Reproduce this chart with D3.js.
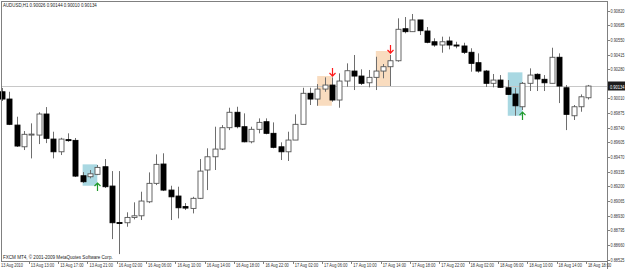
<!DOCTYPE html>
<meta charset="utf-8">
<style>

body {
  margin: 0;
  background: #fff;
}

svg {
  display: block;
  font-family: "Liberation Sans", Arial, sans-serif;
}

.wicks line {
  stroke: #6e6e6e;
  stroke-width: 1px;
}

.frame line {
  stroke: #808080;
  stroke-width: 1px;
  shape-rendering: crispEdges;
}

</style>
<svg id="chart" width="625" height="269"></svg>
<script src="https://cdn.jsdelivr.net/npm/d3@7/dist/d3.min.js"></script>
<script>
// AUDUSD H1, 81 bars
var title = "AUDUSD,H1  0.90026 0.90144 0.90010 0.90134";
var footer = "FXCM MT4, \u00a9 2001-2009 MetaQuotes Software Corp.";

var opens = [0.90081,0.90014,0.89774,0.89574,0.89687,0.89682,0.89876,0.89645,0.89528,0.89640,
  0.89633,0.89307,0.89298,0.89320,0.89390,0.89212,0.88876,0.88874,0.88923,0.88938,
  0.89067,0.89237,0.89415,0.89175,0.89120,0.89023,0.89006,0.89099,0.89360,0.89482,
  0.89553,0.89750,0.89892,0.89759,0.89620,0.89735,0.89805,0.89698,0.89574,0.89528,
  0.89636,0.89781,0.90067,0.90014,0.90106,0.90143,0.90005,0.90180,0.90272,0.90226,
  0.90164,0.90214,0.90272,0.90312,0.90367,0.90662,0.90635,0.90743,0.90641,0.90542,
  0.90512,0.90549,0.90512,0.90503,0.90445,0.90349,0.90272,0.90159,0.90189,0.90118,
  0.90060,0.89943,0.90159,0.90242,0.90196,0.90159,0.90399,0.90118,0.89860,0.89943,
  0.90026];
var highs = [0.90116,0.90081,0.89851,0.89719,0.89790,0.89892,0.89940,0.89713,0.89657,0.89698,
  0.89655,0.89341,0.89360,0.89406,0.89461,0.89350,0.89350,0.88970,0.89062,0.89160,
  0.89338,0.89504,0.89514,0.89215,0.89206,0.89055,0.89113,0.89461,0.89560,0.89759,
  0.89774,0.89934,0.89943,0.89882,0.89759,0.89836,0.89836,0.89799,0.89615,0.89713,
  0.89873,0.90118,0.90118,0.90152,0.90214,0.90214,0.90251,0.90343,0.90420,0.90288,
  0.90282,0.90404,0.90337,0.90420,0.90758,0.90770,0.90798,0.90743,0.90678,0.90574,
  0.90589,0.90589,0.90542,0.90533,0.90482,0.90435,0.90282,0.90245,0.90235,0.90189,
  0.90116,0.90171,0.90297,0.90251,0.90235,0.90487,0.90435,0.90143,0.89959,0.90057,
  0.90144];
var lows = [0.89996,0.89774,0.89572,0.89544,0.89467,0.89599,0.89608,0.89467,0.89498,0.89620,
  0.89295,0.89240,0.89283,0.89313,0.89194,0.88723,0.88585,0.88837,0.88905,0.88899,
  0.89055,0.89221,0.89166,0.88899,0.88914,0.88991,0.88960,0.89092,0.89175,0.89360,
  0.89544,0.89728,0.89744,0.89615,0.89606,0.89698,0.89689,0.89560,0.89452,0.89443,
  0.89636,0.89781,0.89959,0.89952,0.90081,0.89989,0.89934,0.90128,0.90097,0.90143,
  0.90122,0.90097,0.90205,0.90134,0.90358,0.90620,0.90635,0.90604,0.90528,0.90496,
  0.90441,0.90472,0.90482,0.90429,0.90266,0.90257,0.90125,0.90122,0.90116,0.90051,
  0.89860,0.89913,0.90088,0.90088,0.90088,0.90159,0.89977,0.89728,0.89821,0.89897,
  0.90010];
var closes = [0.90014,0.89781,0.89581,0.89689,0.89691,0.89876,0.89652,0.89528,0.89645,0.89636,
  0.89304,0.89252,0.89325,0.89384,0.89206,0.88874,0.88872,0.88923,0.88938,0.89074,
  0.89237,0.89412,0.89175,0.89113,0.89012,0.89009,0.89099,0.89350,0.89482,0.89553,
  0.89750,0.89892,0.89759,0.89620,0.89735,0.89799,0.89698,0.89569,0.89528,0.89636,
  0.89781,0.90067,0.90014,0.90106,0.90143,0.90005,0.90180,0.90275,0.90226,0.90159,
  0.90214,0.90272,0.90312,0.90367,0.90657,0.90635,0.90743,0.90644,0.90537,0.90512,
  0.90542,0.90512,0.90503,0.90445,0.90343,0.90272,0.90159,0.90189,0.90122,0.90057,
  0.89952,0.90159,0.90235,0.90199,0.90164,0.90399,0.90134,0.89873,0.89943,0.90035,
  0.90134];

var timeLabels = ["13 Aug 2010","13 Aug 13:00","13 Aug 17:00","13 Aug 21:00","16 Aug 02:00",
  "16 Aug 06:00","16 Aug 10:00","16 Aug 14:00","16 Aug 18:00","16 Aug 22:00","17 Aug 02:00",
  "17 Aug 06:00","17 Aug 10:00","17 Aug 14:00","17 Aug 18:00","17 Aug 22:00","18 Aug 02:00",
  "18 Aug 06:00","18 Aug 10:00","18 Aug 14:00","18 Aug 18:00"];
var priceTicks = [0.90820,0.90685,0.90550,0.90415,0.90280,0.90010,0.89875,0.89740,0.89605,
  0.89470,0.89335,0.89200,0.89065,0.88930,0.88795,0.88660,0.88525];

// rectangles drawn on the chart: bar span and price span
var zoneFrom = [11, 43, 51, 69];
var zoneTo = [13, 45, 53, 71];
var zoneTop = [0.89412, 0.90226, 0.90457, 0.90260];
var zoneBottom = [0.89215, 0.89952, 0.90134, 0.89860];
var zoneKind = ["buy", "sell", "sell", "buy"];

// signal arrows: bar, tip price
var arrowBar = [13, 45, 53, 71];
var arrowPrice = [0.89240, 0.90226, 0.90438, 0.89894];
var arrowKind = ["buy", "sell", "sell", "buy"];

var svg = d3.select("svg"),
    width = +svg.attr("width"),
    height = +svg.attr("height");

var plotRight = 607, plotBottom = 261;
var zoneColor = {buy: "#a9d8e2", sell: "#f9dcbf"};
var arrowColor = {buy: "#1f9a2a", sell: "#ff1a1a"};

var x = d3.scaleLinear().domain([0, 80]).range([2, 588.4]);
var y = d3.scaleLinear().domain([0.88525, 0.90820]).range([260.6, 11.6]);

var bars = d3.range(opens.length).map(function(i) {
  return {i: i, o: opens[i], h: highs[i], l: lows[i], c: closes[i]};
});

// MT4 text in the screenshot is squeezed sideways: draw at 6px, then scale x to the width seen
function squeeze(sel, targetW) {
  sel.each(function(d, k) {
    var t = d3.select(this);
    var w = this.getComputedTextLength();
    var tw = typeof targetW == "function" ? targetW(d, k) : targetW;
    var px = +t.attr("data-x"), py = +t.attr("data-y");
    t.attr("transform", "translate(" + px + "," + py + ") scale(" + (tw / w) + ",1)");
  });
}

// zones go under everything
svg.append("g").selectAll("rect")
    .data(zoneFrom)
    .enter().append("rect")
      .attr("x", function(d) { return x(d); })
      .attr("width", function(d, k) { return x(zoneTo[k]) - x(d); })
      .attr("y", function(d, k) { return y(zoneTop[k]); })
      .attr("height", function(d, k) { return y(zoneBottom[k]) - y(zoneTop[k]); })
      .attr("fill", function(d, k) { return zoneColor[zoneKind[k]]; });

// last price line
var lastY = Math.round(y(closes[closes.length - 1])) + 0.5;
svg.append("line")
    .attr("x1", 1).attr("x2", plotRight)
    .attr("y1", lastY).attr("y2", lastY)
    .attr("stroke", "#c8c8c8");

svg.append("g")
    .attr("class", "wicks")
  .selectAll("line")
  .data(bars)
  .enter().append("line")
    .attr("x1", function(d) { return Math.round(x(d.i)) + 0.5; })
    .attr("x2", function(d) { return Math.round(x(d.i)) + 0.5; })
    .attr("y1", function(d) { return y(d.h); })
    .attr("y2", function(d) { return y(d.l); });

svg.append("g")
    .attr("class", "bodies")
  .selectAll("rect")
  .data(bars)
  .enter().append("rect")
    .attr("x", function(d) { return Math.round(x(d.i)) - 2; })
    .attr("width", 5)
    .attr("y", function(d) { return y(Math.max(d.o, d.c)); })
    .attr("height", function(d) { return Math.max(1, Math.abs(y(d.o) - y(d.c))); })
    .attr("fill", function(d) { return d.c >= d.o ? "#fff" : "#000"; })
    .attr("stroke", function(d) { return d.c >= d.o ? "#555" : "#000"; })
    .attr("stroke-width", 0.9);

// arrows
svg.append("g").selectAll("path")
    .data(arrowBar)
    .enter().append("path")
      .attr("d", function(d, k) {
        var cx = Math.round(x(d)) + 0.5, ty = y(arrowPrice[k]);
        var s = arrowKind[k] == "buy" ? 1 : -1;
        return "M" + cx + "," + ty + "V" + (ty + s * 8) +
          "M" + (cx - 3) + "," + (ty + s * 3) + "L" + cx + "," + ty + "L" + (cx + 3) + "," + (ty + s * 3);
      })
      .attr("fill", "none")
      .attr("stroke-width", 1.2)
      .attr("stroke", function(d, k) { return arrowColor[arrowKind[k]]; });

// frame
var frame = svg.append("g").attr("class", "frame");
frame.append("line").attr("x1", 1.5).attr("x2", 1.5).attr("y1", 1).attr("y2", plotBottom);
frame.append("line").attr("x1", 1).attr("x2", plotRight).attr("y1", 1.5).attr("y2", 1.5);
frame.append("line").attr("x1", 1).attr("x2", plotRight).attr("y1", plotBottom + 0.5).attr("y2", plotBottom + 0.5);
frame.append("line").attr("x1", plotRight + 0.5).attr("x2", plotRight + 0.5).attr("y1", 1).attr("y2", height);

// price axis
var py = svg.append("g");
py.selectAll("line")
    .data(priceTicks)
    .enter().append("line")
      .attr("x1", plotRight).attr("x2", plotRight + 3)
      .attr("y1", function(d) { return Math.round(y(d)) - 0.5; })
      .attr("y2", function(d) { return Math.round(y(d)) - 0.5; })
      .attr("stroke", "#808080");
py.selectAll("text")
    .data(priceTicks)
    .enter().append("text")
      .attr("data-x", 610.5)
      .attr("data-y", function(d) { return y(d) + 1; })
      .attr("font-size", 6)
      .attr("fill", "#333")
      .text(function(d) { return d3.format(".5f")(d); })
      .call(squeeze, 14);

// last price tag
svg.append("rect")
    .attr("x", plotRight + 1).attr("y", lastY - 5)
    .attr("width", 18).attr("height", 9)
    .attr("fill", "#1c1c1c");
svg.append("text")
    .attr("data-x", 610).attr("data-y", lastY + 2)
    .attr("font-size", 6)
    .attr("fill", "#fff")
    .text(d3.format(".5f")(closes[closes.length - 1]))
    .call(squeeze, 14.5);

// time axis, a label every 4 bars
var tx = svg.append("g");
tx.selectAll("line")
    .data(timeLabels.slice(1))
    .enter().append("line")
      .attr("x1", function(d, k) { return Math.round(x((k + 1) * 4) - 2.5) + 0.5; })
      .attr("x2", function(d, k) { return Math.round(x((k + 1) * 4) - 2.5) + 0.5; })
      .attr("y1", plotBottom).attr("y2", plotBottom + 3)
      .attr("stroke", "#808080");
tx.selectAll("text")
    .data(timeLabels)
    .enter().append("text")
      .attr("data-x", function(d, k) { return k == 0 ? 1 : x(k * 4) - 0.5; })
      .attr("data-y", 267)
      .attr("font-size", 6)
      .attr("fill", "#333")
      .text(function(d) { return d; })
      .call(squeeze, function(d, k) { return k == 0 ? 22 : 23.5; });

svg.append("text")
    .attr("data-x", 3).attr("data-y", 7)
    .attr("font-size", 6)
    .attr("fill", "#222")
    .text(title)
    .call(squeeze, 94);

svg.append("text")
    .attr("data-x", 3).attr("data-y", 259)
    .attr("font-size", 6)
    .attr("fill", "#222")
    .text(footer)
    .call(squeeze, 110);

</script>
